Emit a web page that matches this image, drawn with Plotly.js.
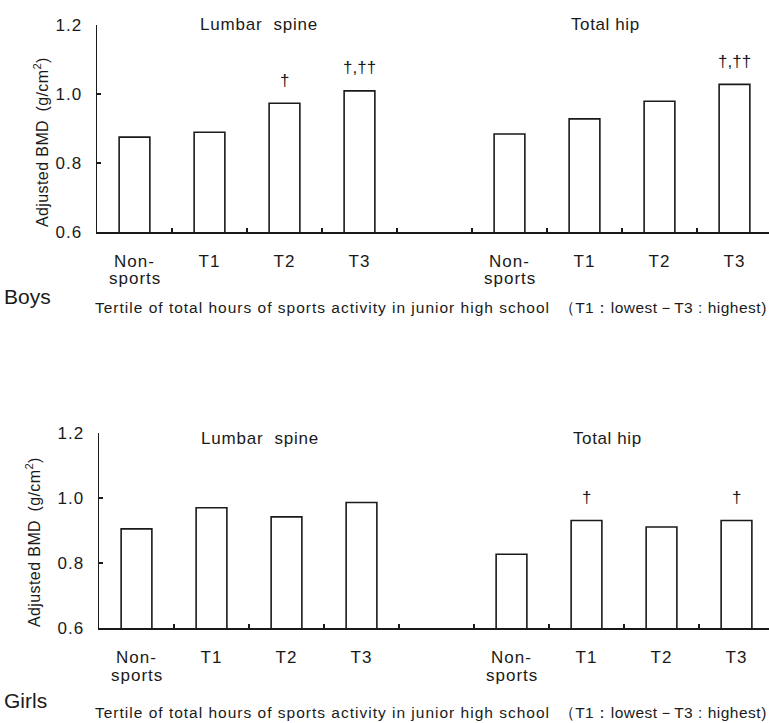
<!DOCTYPE html>
<html>
<head>
<meta charset="utf-8">
<script src="https://cdn.plot.ly/plotly-3.0.1.min.js"></script>
<style>html,body{margin:0;padding:0;background:#fff;}#chart{width:769px;height:723px;}</style>
</head>
<body>
<div id="chart"></div>
<script>
// ---- data ----
var categoriesLine1 = ["Non-", "T1", "T2", "T3"];
var categoriesLine2 = ["sports", "", "", ""];
var sites = ["Lumbar\u00a0 spine", "Total hip"];
var boysLumbar = [0.875, 0.889, 0.973, 1.009];
var boysHip = [0.884, 0.928, 0.979, 1.028];
var girlsLumbar = [0.905, 0.970, 0.942, 0.986];
var girlsHip = [0.827, 0.931, 0.911, 0.931];
var boysLumbarSig = ["", "", "\u2020", "\u2020,\u2020\u2020"];
var boysHipSig = ["", "", "", "\u2020,\u2020\u2020"];
var girlsLumbarSig = ["", "", "", ""];
var girlsHipSig = ["", "\u2020", "", "\u2020"];
var groups = ["Boys", "Girls"];
var xCaptionMain = "Tertile of total hours of sports activity in junior high school";
var xCaptionTail = "\uFF08T1\uFF1Alowest\uFF0DT3 : highest)";
var yTitle = "Adjusted BMD\u2002(g/cm<sup>2</sup>)";
var yTicks = [0.6, 0.8, 1.0, 1.2];

// ---- layout helpers ----
var W = 769, H = 723;
var FONT = "Liberation Sans, Arial, sans-serif";
var INK = "#1a1a1a";
var lumbarX = [0, 1, 2, 3];
var hipX = [5, 6, 7, 8];
var tickVals = lumbarX.concat(hipX);
var boundaries = [0.5, 1.5, 2.5, 3.5, 4.5, 5.5, 6.5, 7.5];

function sp(t, ls) { return '<span style="letter-spacing:' + ls + 'px">' + t + '</span>'; }
var tickText = categoriesLine1.concat(categoriesLine1).map(function(t){ return sp(t, 1); });
var captionText = sp(xCaptionMain, 1.0) + "\u00a0 " + sp(xCaptionTail, 0.5);

function px(x) { return x / W; }
function py(y) { return 1 - y / H; }

function barTrace(xs, ys, xa, ya) {
  return {
    type: "bar", x: xs, y: ys, xaxis: xa, yaxis: ya, width: 0.41,
    marker: {color: "#ffffff", line: {color: INK, width: 1.6}},
    hoverinfo: "skip", showlegend: false
  };
}

var data = [
  barTrace(lumbarX, boysLumbar, "x", "y"),
  barTrace(hipX, boysHip, "x", "y"),
  barTrace(lumbarX, girlsLumbar, "x2", "y2"),
  barTrace(hipX, girlsHip, "x2", "y2")
];

function xAxis(domainStart, anchor) {
  return {
    domain: [domainStart, 1], anchor: anchor,
    range: [-0.5, -0.5 + (W - domainStart * W) / 75],
    tickmode: "array", tickvals: tickVals, ticktext: tickText,
    ticks: "", showgrid: false, zeroline: false,
    showline: true, linecolor: INK, linewidth: 1.5,
    tickfont: {family: FONT, size: 17, color: INK},
    ticklabelstandoff: 13,
    minor: {tickmode: "array", tickvals: boundaries, ticks: "inside", ticklen: 4, tickwidth: 1.2, tickcolor: INK, showgrid: false},
    fixedrange: true
  };
}
function yAxis(domain, anchor) {
  return {
    domain: domain, anchor: anchor, range: [0.6, 1.2],
    tickmode: "array", tickvals: yTicks, ticktext: yTicks.map(function(v){return sp(v.toFixed(1), 1);}),
    ticks: "inside", ticklen: 4, tickwidth: 1.2, tickcolor: INK,
    showgrid: false, zeroline: false,
    showline: true, linecolor: INK, linewidth: 1.5,
    tickfont: {family: FONT, size: 17, color: INK},
    ticklabelstandoff: 10,
    fixedrange: true
  };
}

var annotations = [];
function txt(text, x, y, size, xanchor, extra) {
  var a = {text: text, xref: "paper", yref: "paper", x: px(x), y: py(y),
    xanchor: xanchor || "center", yanchor: "middle", showarrow: false, align: xanchor || "center",
    font: {family: FONT, size: size, color: INK}};
  if (extra) for (var k in extra) a[k] = extra[k];
  annotations.push(a);
}
function sig(xs, ys, labels, xa, ya) {
  for (var i = 0; i < xs.length; i++) {
    if (!labels[i]) continue;
    annotations.push({text: labels[i], x: xs[i], y: ys[i], xref: xa, yref: ya,
      yanchor: "middle", yshift: 23, showarrow: false,
      font: {family: FONT, size: 17, color: INK}});
  }
}
function secondLine(xs, xa, y) {
  for (var i = 0; i < xs.length; i++) {
    if (!categoriesLine2[i]) continue;
    annotations.push({text: sp(categoriesLine2[i], 1), x: xs[i], xref: xa, y: py(y), yref: "paper",
      yanchor: "middle", showarrow: false,
      font: {family: FONT, size: 17, color: INK}});
  }
}

// top panel (Boys)
txt(sp(sites[0], 0.8), 259, 25, 17);
txt(sp(sites[1], 0.6), 605, 25, 17);
txt(sp(yTitle, 0.4), 41, 142, 16, "center", {textangle: -90});
txt(groups[0], 2, 296, 21, "left");
txt(captionText, 93, 307, 15.5, "left");
sig(lumbarX, boysLumbar, boysLumbarSig, "x", "y");
sig(hipX, boysHip, boysHipSig, "x", "y");
secondLine(lumbarX, "x", 278);
secondLine(hipX, "x", 278);

// bottom panel (Girls)
txt(sp(sites[0], 0.8), 260, 439, 17);
txt(sp(sites[1], 0.6), 607, 439, 17);
txt(sp(yTitle, 0.4), 33, 542, 16, "center", {textangle: -90});
txt(groups[1], 2, 700, 21, "left");
txt(captionText, 93, 712, 15.5, "left");
sig(lumbarX, girlsLumbar, girlsLumbarSig, "x2", "y2");
sig(hipX, girlsHip, girlsHipSig, "x2", "y2");
secondLine(lumbarX, "x2", 675);
secondLine(hipX, "x2", 675);

var layout = {
  width: W, height: H,
  margin: {l: 0, r: 0, t: 0, b: 0},
  paper_bgcolor: "#ffffff", plot_bgcolor: "#ffffff",
  showlegend: false, bargap: 0,
  xaxis: xAxis(97 / W, "y"),
  yaxis: yAxis([py(232), py(25)], "x"),
  xaxis2: xAxis(99 / W, "y2"),
  yaxis2: yAxis([py(628), py(433)], "x2"),
  annotations: annotations
};

Plotly.newPlot("chart", data, layout, {displayModeBar: false, staticPlot: true});
</script>
</body>
</html>
